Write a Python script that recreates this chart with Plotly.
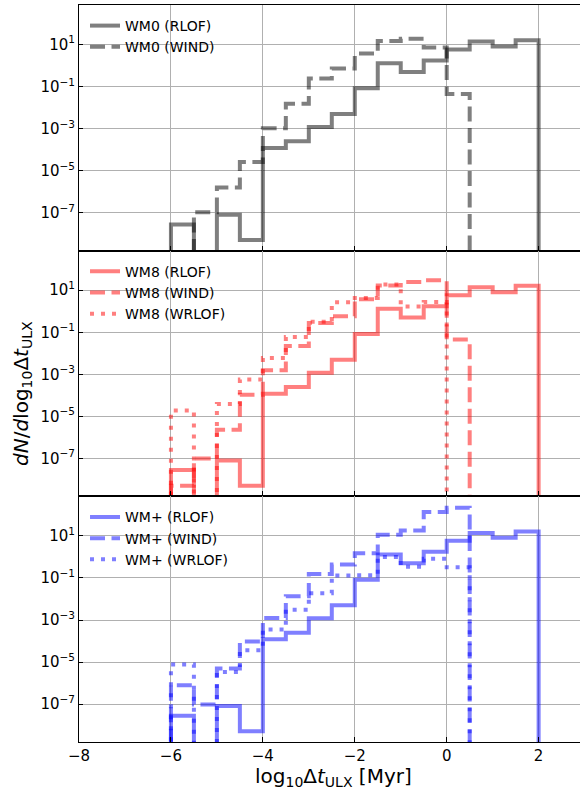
import plotly.graph_objects as go
from plotly.subplots import make_subplots

# ---------------- data ----------------
bin_edges = [-6.0, -5.5, -5.0, -4.5, -4.0, -3.5, -3.0, -2.5, -2.0,
             -1.5, -1.0, -0.5, 0.0, 0.5, 1.0, 1.5, 2.0]

# dN/dlog10(dt) per bin (0 = empty bin)
wm0_rlof = [2.8e-8, 0, 8.1e-8, 5.1e-9, 1.2e-4, 2.5e-4, 1.2e-3, 5.0e-3,
            8.3e-2, 1.3, 0.5, 1.75, 5.8, 13.8, 8.1, 16.2]
wm0_wind = [0, 1.05e-7, 1.6e-6, 2.6e-5, 1.05e-3, 1.55e-2, 0.245, 0.72,
            3.7, 14.8, 19.0, 7.2, 4.5e-2, 0, 0, 0]

wm8_rlof = [2.8e-8, 0, 8.1e-8, 5.1e-9, 1.2e-4, 2.5e-4, 1.2e-3, 5.0e-3,
            8.3e-2, 1.3, 0.5, 1.75, 5.8, 13.8, 8.1, 16.2]
wm8_wind = [5.0e-9, 1.0e-7, 2.3e-6, 1.07e-4, 1.55e-3, 2.2e-2, 0.275, 0.575,
            3.7, 16.6, 24.5, 29.5, 4.5e-2, 0, 0, 0]
wm8_wrlof = [1.9e-5, 0, 3.9e-5, 5.75e-4, 6.0e-3, 6.0e-2, 0.316, 2.7,
             4.3, 18.6, 1.7, 2.75, 0, 0, 0, 0]

wmp_rlof = [2.8e-8, 0, 8.1e-8, 5.1e-9, 1.2e-4, 2.5e-4, 1.2e-3, 5.0e-3,
            8.3e-2, 1.3, 0.5, 1.75, 5.8, 13.8, 8.1, 16.2]
wmp_wind = [7.9e-7, 9.5e-8, 4.9e-6, 9.5e-5, 1.26e-3, 1.35e-2, 0.155, 0.43,
            1.48, 11.2, 18.2, 138.0, 219.0, 0, 0, 0]
wmp_wrlof = [7.6e-6, 0, 3.4e-6, 3.6e-5, 3.5e-4, 3.1e-3, 1.86e-2, 0.132,
             0.135, 1.0, 0.34, 0.81, 0.32, 0, 0, 0]

x_ticks = [-8, -6, -4, -2, 0, 2]
x_ticktext = ["\u22128", "\u22126", "\u22124", "\u22122", "0", "2"]
y_tick_exps = [1, -1, -3, -5, -7]

panels = [
    ("WM0", "rgba(0,0,0,0.5)", [("RLOF", wm0_rlof), ("WIND", wm0_wind)]),
    ("WM8", "rgba(255,0,0,0.5)", [("RLOF", wm8_rlof), ("WIND", wm8_wind), ("WRLOF", wm8_wrlof)]),
    ("WM+", "rgba(0,0,255,0.5)", [("RLOF", wmp_rlof), ("WIND", wmp_wind), ("WRLOF", wmp_wrlof)]),
]

dash_styles = {"RLOF": "solid", "WIND": "15px,6.5px", "WRLOF": "4px,7px"}
FLOOR = 1e-14


def step_xy(edges, vals):
    xs = [edges[0]] + list(edges[:-1]) + [edges[-1], edges[-1]]
    v = [val if val > 0 else FLOOR for val in vals]
    ys = [FLOOR] + v + [v[-1], FLOOR]
    return xs, ys


fig = make_subplots(rows=3, cols=1, shared_xaxes=True, vertical_spacing=0)

legend_names = ["legend", "legend2", "legend3"]
for i, (model, color, series) in enumerate(panels):
    for kind, vals in series:
        xs, ys = step_xy(bin_edges, vals)
        fig.add_trace(go.Scatter(
            x=xs, y=ys, mode="lines", line_shape="hv",
            line=dict(color=color, width=4, dash=dash_styles[kind]),
            name=f"{model} ({kind})", legend=legend_names[i],
            hoverinfo="skip",
        ), row=i + 1, col=1)

FONT = "DejaVu Sans"
W, H = 580, 789
ML, MR, MT, MB = 79, 0, 5, 47
plot_h = H - MT - MB
plot_w = W - ML - MR

for r in range(1, 4):
    fig.update_xaxes(
        range=[-8, 2.9], tickvals=x_ticks, ticktext=x_ticktext,
        ticks="inside", ticklen=5, tickwidth=1, tickcolor="black",
        showgrid=True, gridcolor="#b0b0b0", gridwidth=1,
        showline=True, linecolor="black", linewidth=1, mirror=True,
        zeroline=False, showticklabels=(r == 3), automargin=False,
        tickfont=dict(family=FONT, size=15, color="black"),
        row=r, col=1)
    fig.update_yaxes(
        type="log", range=[-8.8, 2.88],
        tickvals=[10.0 ** e for e in y_tick_exps],
        ticktext=[f"10<sup>{str(e).replace('-', '\u2212')}</sup>" for e in y_tick_exps],
        ticks="inside", ticklen=4, tickwidth=1, tickcolor="black",
        showgrid=True, gridcolor="#b0b0b0", gridwidth=1,
        showline=True, linecolor="black", linewidth=1, mirror=False,
        zeroline=False, automargin=False,
        tickfont=dict(family=FONT, size=15, color="black"),
        row=r, col=1)

legend_common = dict(
    bgcolor="rgba(0,0,0,0)", borderwidth=0, itemwidth=30,
    font=dict(family=FONT, size=14, color="black"),
    xanchor="left", yanchor="top", tracegroupgap=0, x=0.012,
)
tops = [1.0, 2.0 / 3.0, 1.0 / 3.0]
layout_legends = {}
for name, top in zip(legend_names, tops):
    layout_legends[name] = dict(legend_common, y=top - 5.0 / plot_h)

fig.update_layout(
    width=W, height=H,
    margin=dict(l=ML, r=MR, t=MT, b=MB, autoexpand=False),
    paper_bgcolor="white", plot_bgcolor="white",
    font=dict(family=FONT, color="black"),
    showlegend=True,
    **layout_legends,
)

fig.add_annotation(
    text="log<sub>10</sub>\u0394<i>t</i><sub>ULX</sub> [Myr]",
    xref="paper", yref="paper", x=(333 - ML) / plot_w, y=(H - MB - 777) / plot_h,
    xanchor="center", yanchor="middle", showarrow=False,
    font=dict(family=FONT, size=20, color="black"))
fig.add_annotation(
    text="<i>dN</i>/<i>d</i>log<sub>10</sub>\u0394<i>t</i><sub>ULX</sub>",
    xref="paper", yref="paper", x=(22 - ML) / plot_w, y=(H - MB - 394) / plot_h,
    xanchor="center", yanchor="middle", textangle=-90, showarrow=False,
    font=dict(family=FONT, size=20, color="black"))

fig.write_html("out.html", config={"displayModeBar": False},
               post_script="document.body.style.margin='0px';")
